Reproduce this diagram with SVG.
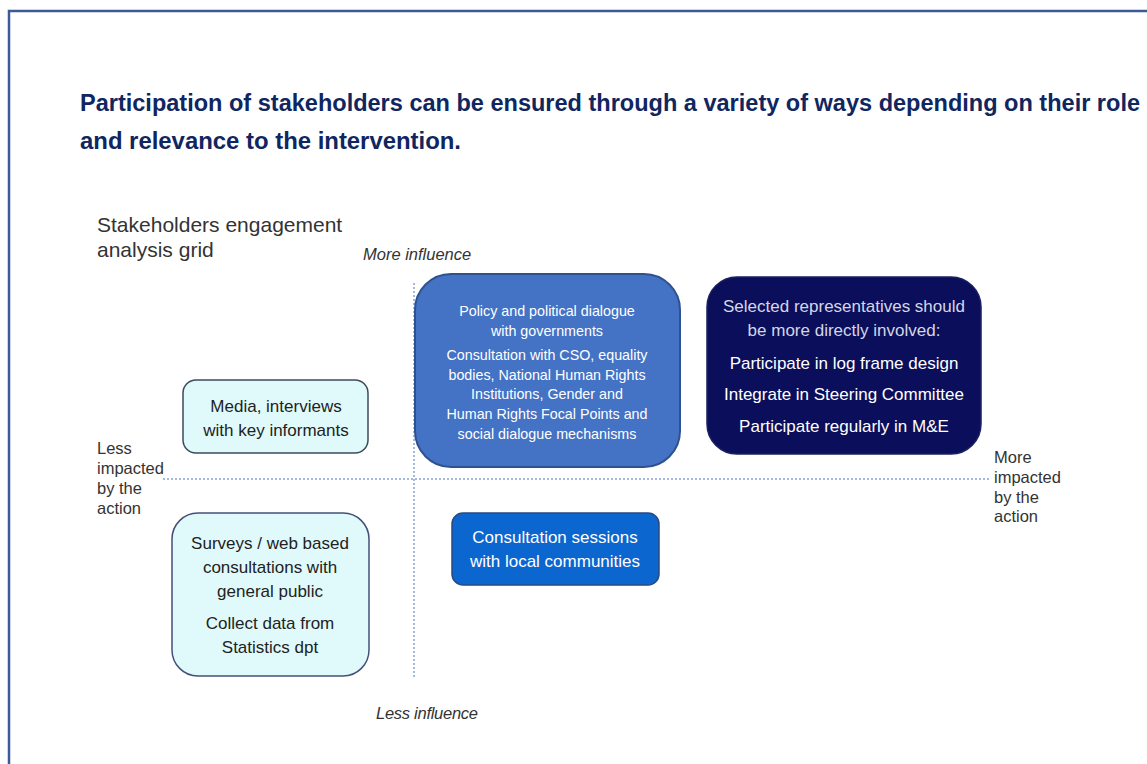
<svg xmlns="http://www.w3.org/2000/svg" width="1147" height="764" viewBox="0 0 1147 764">
<style>
text{font-family:"Liberation Sans",Arial,sans-serif}
.title{font-size:23px;font-weight:bold;fill:#0f2660}
.lab{font-size:16.5px;fill:#333}
.ital{font-size:16.5px;font-style:italic;fill:#333}
.w{fill:#fff;text-anchor:middle}
.d{fill:#222;text-anchor:middle;font-size:17px}
.axis{stroke:#4472c4;stroke-width:1;stroke-dasharray:2 2;fill:none}
</style>
<rect width="1147" height="764" fill="#fff"/>
<rect x="9" y="11" width="1160" height="780" fill="none" stroke="#3a5a98" stroke-width="2.5"/>
<text class="title" x="80" y="111" textLength="1060" lengthAdjust="spacingAndGlyphs">Participation of stakeholders can be ensured through a variety of ways depending on their role</text>
<text class="title" x="80" y="149" textLength="381" lengthAdjust="spacingAndGlyphs">and relevance to the intervention.</text>
<text x="97" y="232" font-size="21" fill="#333">Stakeholders engagement</text>
<text x="97" y="257" font-size="21" fill="#333">analysis grid</text>
<text class="ital" x="363" y="260">More influence</text>
<text class="ital" x="376" y="719" textLength="102">Less influence</text>
<g id="connectors">
<line class="axis" x1="414" y1="283" x2="414" y2="678"/>
<line class="axis" x1="163" y1="479" x2="990" y2="479"/>
</g>
<g id="less-impacted">
<text class="lab" x="97" y="454">Less</text>
<text class="lab" x="97" y="474">impacted</text>
<text class="lab" x="97" y="494">by the</text>
<text class="lab" x="97" y="514">action</text>
</g>
<g id="more-impacted">
<text class="lab" x="994" y="463">More</text>
<text class="lab" x="994" y="483">impacted</text>
<text class="lab" x="994" y="503">by the</text>
<text class="lab" x="994" y="522">action</text>
</g>
<g id="policy">
<rect x="415" y="274" width="265" height="193" rx="36" fill="#4472c4" stroke="#2f528f" stroke-width="2"/>
<g class="w" font-size="14.3">
<text x="547" y="316">Policy and political dialogue</text>
<text x="547" y="336">with governments</text>
<text x="547" y="360">Consultation with CSO, equality</text>
<text x="547" y="380">bodies, National Human Rights</text>
<text x="547" y="399">Institutions, Gender and</text>
<text x="547" y="419">Human Rights Focal Points and</text>
<text x="547" y="439">social dialogue mechanisms</text>
</g>
</g>
<g id="selected">
<rect x="707" y="277" width="274" height="177" rx="30" fill="#0b0e5a" stroke="#1a2060" stroke-width="1.5"/>
<g class="w" font-size="17">
<text x="844" y="312" fill="#d4d6e6">Selected representatives should</text>
<text x="844" y="336" fill="#d4d6e6">be more directly involved:</text>
<text x="844" y="369">Participate in log frame design</text>
<text x="844" y="400">Integrate in Steering Committee</text>
<text x="844" y="432">Participate regularly in M&amp;E</text>
</g>
</g>
<g id="media">
<rect x="183" y="380" width="185" height="73" rx="13" fill="#e0fafb" stroke="#3d4a5c" stroke-width="1.5"/>
<text class="d" x="276" y="412">Media, interviews</text>
<text class="d" x="276" y="436">with key informants</text>
</g>
<g id="surveys">
<rect x="172" y="513" width="197" height="163" rx="26" fill="#e0fafb" stroke="#44507a" stroke-width="1.5"/>
<text class="d" x="270" y="549">Surveys / web based</text>
<text class="d" x="270" y="573">consultations with</text>
<text class="d" x="270" y="597">general public</text>
<text class="d" x="270" y="629">Collect data from</text>
<text class="d" x="270" y="653">Statistics dpt</text>
</g>
<g id="consultation">
<rect x="452" y="513" width="207" height="72" rx="11" fill="#0b66d0" stroke="#2a4a80" stroke-width="1.5"/>
<g class="w" font-size="17">
<text x="555" y="543">Consultation sessions</text>
<text x="555" y="567">with local communities</text>
</g>
</g>
</svg>
